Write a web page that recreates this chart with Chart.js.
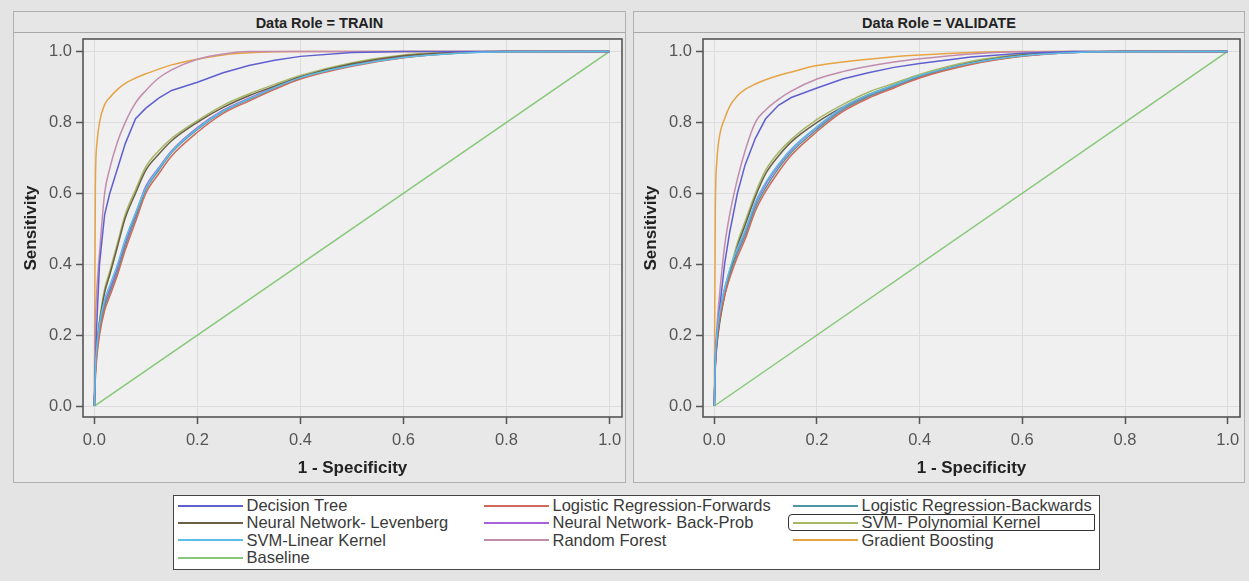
<!DOCTYPE html>
<html>
<head>
<meta charset="utf-8">
<script src="https://cdn.jsdelivr.net/npm/chart.js@4"></script>
<style>
  body { margin: 0; width: 1249px; height: 581px; overflow: hidden; background: #e4e4e4;
         font-family: "Liberation Sans", Arial, sans-serif; position: relative; }
  .panel { position: absolute; top: 11px; height: 472px; box-sizing: border-box;
           border: 1px solid #b0b0b0; background: #e8e8e8; }
  .panel .head { height: 20px; border-bottom: 1px solid #a8a8a8; background: #e6e6e6;
                 text-align: center; font-weight: bold; font-size: 14.5px; line-height: 22px; color: #222; }
  .plot { position: absolute; top: 33px; height: 450px; }
  #legend { position: absolute; left: 173px; top: 495px; width: 927px; height: 75px; box-sizing: border-box;
            border: 1.5px solid #444; background: #fff; }
  .item { position: absolute; height: 17.3px; line-height: 17.3px; font-size: 16.5px; color: #3a3a3a; white-space: nowrap; }
  .item span.ln { display: inline-block; width: 65px; height: 2px; vertical-align: middle; margin-right: 4px; position: relative; top: -1px; }
  #focus { position: absolute; left: 614px; top: 18px; width: 307px; height: 17px; box-sizing: border-box;
           border: 1.5px solid #333; border-radius: 4px 0 0 4px; }
</style>
</head>
<body>
<div class="panel" style="left:13px;width:613px"><div class="head">Data Role = TRAIN</div></div>
<div class="panel" style="left:633px;width:612px"><div class="head">Data Role = VALIDATE</div></div>
<div class="plot" style="left:13px;width:613px"><canvas id="trainChart"></canvas></div>
<div class="plot" style="left:633px;width:612px"><canvas id="validChart"></canvas></div>
<div id="legend"><div id="focus"></div></div>

<script>
// false positive rate grid shared by all model curves
const fpr = [0, 0.002, 0.005, 0.01, 0.02, 0.03, 0.045, 0.06, 0.08, 0.1, 0.125, 0.15, 0.2, 0.25, 0.3, 0.35, 0.4, 0.5, 0.6, 0.7, 0.8, 1.0];
const baseFpr = [0, 1];
const baseTpr = [0, 1];
const tickValues = [0, 0.2, 0.4, 0.6, 0.8, 1.0];

const modelNames = ['Decision Tree', 'Logistic Regression-Forwards', 'Logistic Regression-Backwards',
  'Neural Network- Levenberg', 'Neural Network- Back-Prob', 'SVM- Polynomial Kernel',
  'SVM-Linear Kernel', 'Random Forest', 'Gradient Boosting', 'Baseline'];
const modelColors = ['#5f5fd0', '#cf6a5a', '#4f96a3', '#6b5f45', '#a862dc', '#a6b866',
  '#5cbde6', '#c28cae', '#e6a445', '#86c878'];

// TRAIN sensitivity
const trainDT   = [0, .12, .24, .40, .54, .60, .67, .74, .81, .84, .868, .89, .913, .94, .96, .975, .986, .997, 1, 1, 1, 1];
const trainLRF  = [0, .08, .14, .20, .27, .31, .37, .44, .52, .60, .655, .705, .772, .825, .86, .893, .922, .958, .982, .995, 1, 1];
const trainLRB  = [0, .09, .15, .21, .28, .32, .38, .45, .53, .61, .665, .715, .78, .83, .864, .896, .925, .96, .983, .995, 1, 1];
const trainNNL  = [0, .10, .17, .235, .32, .37, .45, .53, .60, .665, .71, .748, .80, .842, .875, .902, .928, .965, .988, .997, 1, 1];
const trainNNB  = [0, .10, .16, .22, .29, .33, .39, .46, .54, .62, .672, .72, .785, .834, .868, .90, .928, .962, .985, .996, 1, 1];
const trainSVMP = [0, .10, .17, .24, .33, .38, .46, .54, .61, .675, .72, .755, .805, .848, .88, .907, .932, .968, .99, .998, 1, 1];
const trainSVML = [0, .11, .17, .23, .30, .34, .40, .47, .545, .615, .67, .718, .782, .832, .866, .898, .926, .96, .983, .994, .999, 1];
const trainRF   = [0, .22, .33, .43, .60, .67, .745, .80, .855, .89, .925, .948, .978, .993, 1, 1, 1, 1, 1, 1, 1, 1];
const trainGB   = [0, .62, .74, .80, .85, .87, .893, .91, .925, .937, .95, .962, .978, .99, .996, .999, 1, 1, 1, 1, 1, 1];

// VALIDATE sensitivity
const validDT   = [0, .12, .19, .27, .40, .49, .60, .68, .755, .81, .848, .87, .897, .922, .94, .955, .966, .984, .995, 1, 1, 1];
const validLRF  = [0, .11, .18, .24, .31, .36, .42, .47, .55, .605, .66, .707, .774, .83, .868, .897, .925, .963, .986, .997, 1, 1];
const validLRB  = [0, .12, .19, .25, .32, .37, .43, .48, .56, .615, .67, .715, .78, .835, .872, .90, .928, .965, .987, .997, 1, 1];
const validNNL  = [0, .11, .17, .23, .31, .37, .45, .51, .59, .655, .705, .745, .80, .843, .878, .905, .93, .968, .99, .998, 1, 1];
const validNNB  = [0, .13, .20, .26, .33, .38, .44, .49, .57, .625, .678, .722, .786, .84, .876, .904, .931, .967, .988, .997, 1, 1];
const validSVMP = [0, .12, .18, .24, .32, .38, .46, .52, .60, .665, .715, .752, .808, .85, .885, .91, .935, .972, .992, .999, 1, 1];
const validSVML = [0, .13, .20, .26, .33, .385, .445, .495, .575, .63, .682, .725, .788, .842, .878, .905, .932, .967, .988, .997, .999, 1];
const validRF   = [0, .14, .22, .31, .45, .54, .64, .72, .80, .835, .865, .888, .922, .943, .958, .97, .979, .993, .999, 1, 1, 1];
const validGB   = [0, .55, .69, .76, .81, .845, .875, .893, .908, .92, .932, .942, .96, .97, .978, .985, .99, .997, 1, 1, 1, 1];

const trainCurves = [trainDT, trainLRF, trainLRB, trainNNL, trainNNB, trainSVMP, trainSVML, trainRF, trainGB];
const validCurves = [validDT, validLRF, validLRB, validNNL, validNNB, validSVMP, validSVML, validRF, validGB];

function makeDatasets(curves) {
  const sets = curves.map((tpr, i) => ({
    label: modelNames[i],
    data: fpr.map((x, j) => ({ x: x, y: tpr[j] })),
    borderColor: modelColors[i],
    borderWidth: 1.5,
    pointRadius: 0,
    showLine: true,
    cubicInterpolationMode: i === 0 ? 'default' : 'monotone',
    tension: 0,
    order: modelNames[i] === 'SVM-Linear Kernel' ? -1 : i
  }));
  sets.push({
    label: 'Baseline',
    data: baseFpr.map((x, j) => ({ x: x, y: baseTpr[j] })),
    borderColor: modelColors[9],
    borderWidth: 1.5,
    pointRadius: 0,
    showLine: true,
    order: 20
  });
  return sets;
}

// plot background + full frame
const framePlugin = {
  id: 'frame',
  beforeDraw(chart) {
    const a = chart.chartArea, ctx = chart.ctx;
    ctx.save();
    ctx.fillStyle = '#f0f0f0';
    ctx.fillRect(a.left, a.top, a.right - a.left, a.bottom - a.top);
    ctx.restore();
  },
  afterDraw(chart) {
    const a = chart.chartArea, ctx = chart.ctx;
    ctx.save();
    ctx.strokeStyle = '#555';
    ctx.lineWidth = 1.6;
    ctx.strokeRect(a.left, a.top, a.right - a.left, a.bottom - a.top);
    ctx.restore();
  }
};

function fixTicks(scale) {
  scale.ticks = tickValues.map(v => ({ value: v }));
}

function makeChart(id, curves, rightPad) {
  const tickFont = { family: '"Liberation Sans", Arial, sans-serif', size: 16.5 };
  const titleFont = { family: '"Liberation Sans", Arial, sans-serif', size: 17, weight: 'bold' };
  return new Chart(document.getElementById(id), {
    type: 'scatter',
    data: { datasets: makeDatasets(curves) },
    options: {
      responsive: true,
      maintainAspectRatio: false,
      animation: false,
      layout: { padding: { left: 0, top: 6, right: rightPad, bottom: 0 } },
      plugins: { legend: { display: false }, tooltip: { enabled: false } },
      scales: {
        x: {
          type: 'linear', min: -0.022, max: 1.024,
          afterBuildTicks: fixTicks,
          afterFit(s) { s.height = 66; s.paddingLeft = 0; s.paddingRight = 0; },
          grid: { color: '#dcdcdc', lineWidth: 1, tickLength: 7, tickColor: '#555', tickWidth: 1.5 },
          border: { display: false },
          ticks: { font: tickFont, color: '#555', padding: 7, maxRotation: 0, callback: v => v.toFixed(1) },
          title: { display: true, text: '1 - Specificity', font: titleFont, color: '#222', padding: { top: 0, bottom: 4 } }
        },
        y: {
          type: 'linear', min: -0.031, max: 1.035,
          afterBuildTicks: fixTicks,
          afterFit(s) { s.width = 70; s.paddingTop = 0; s.paddingBottom = 0; },
          grid: { color: '#dcdcdc', lineWidth: 1, tickLength: 7, tickColor: '#555', tickWidth: 1.5 },
          border: { display: false },
          ticks: { font: tickFont, color: '#555', padding: 4, callback: v => v.toFixed(1) },
          title: { display: true, text: 'Sensitivity', font: titleFont, color: '#222', padding: { top: 8, bottom: 0 } }
        }
      }
    },
    plugins: [framePlugin]
  });
}

makeChart('trainChart', trainCurves, 4);
makeChart('validChart', validCurves, 5);

// legend (3 columns, row-major)
const legend = document.getElementById('legend');
const colLeft = [3.5, 309.5, 618.5];
modelNames.forEach((name, i) => {
  const el = document.createElement('div');
  el.className = 'item';
  el.style.left = colLeft[i % 3] + 'px';
  el.style.top = (1 + Math.floor(i / 3) * 17.3) + 'px';
  el.innerHTML = '<span class="ln" style="background:' + modelColors[i] + '"></span>' + name;
  legend.appendChild(el);
});
</script>
</body>
</html>
